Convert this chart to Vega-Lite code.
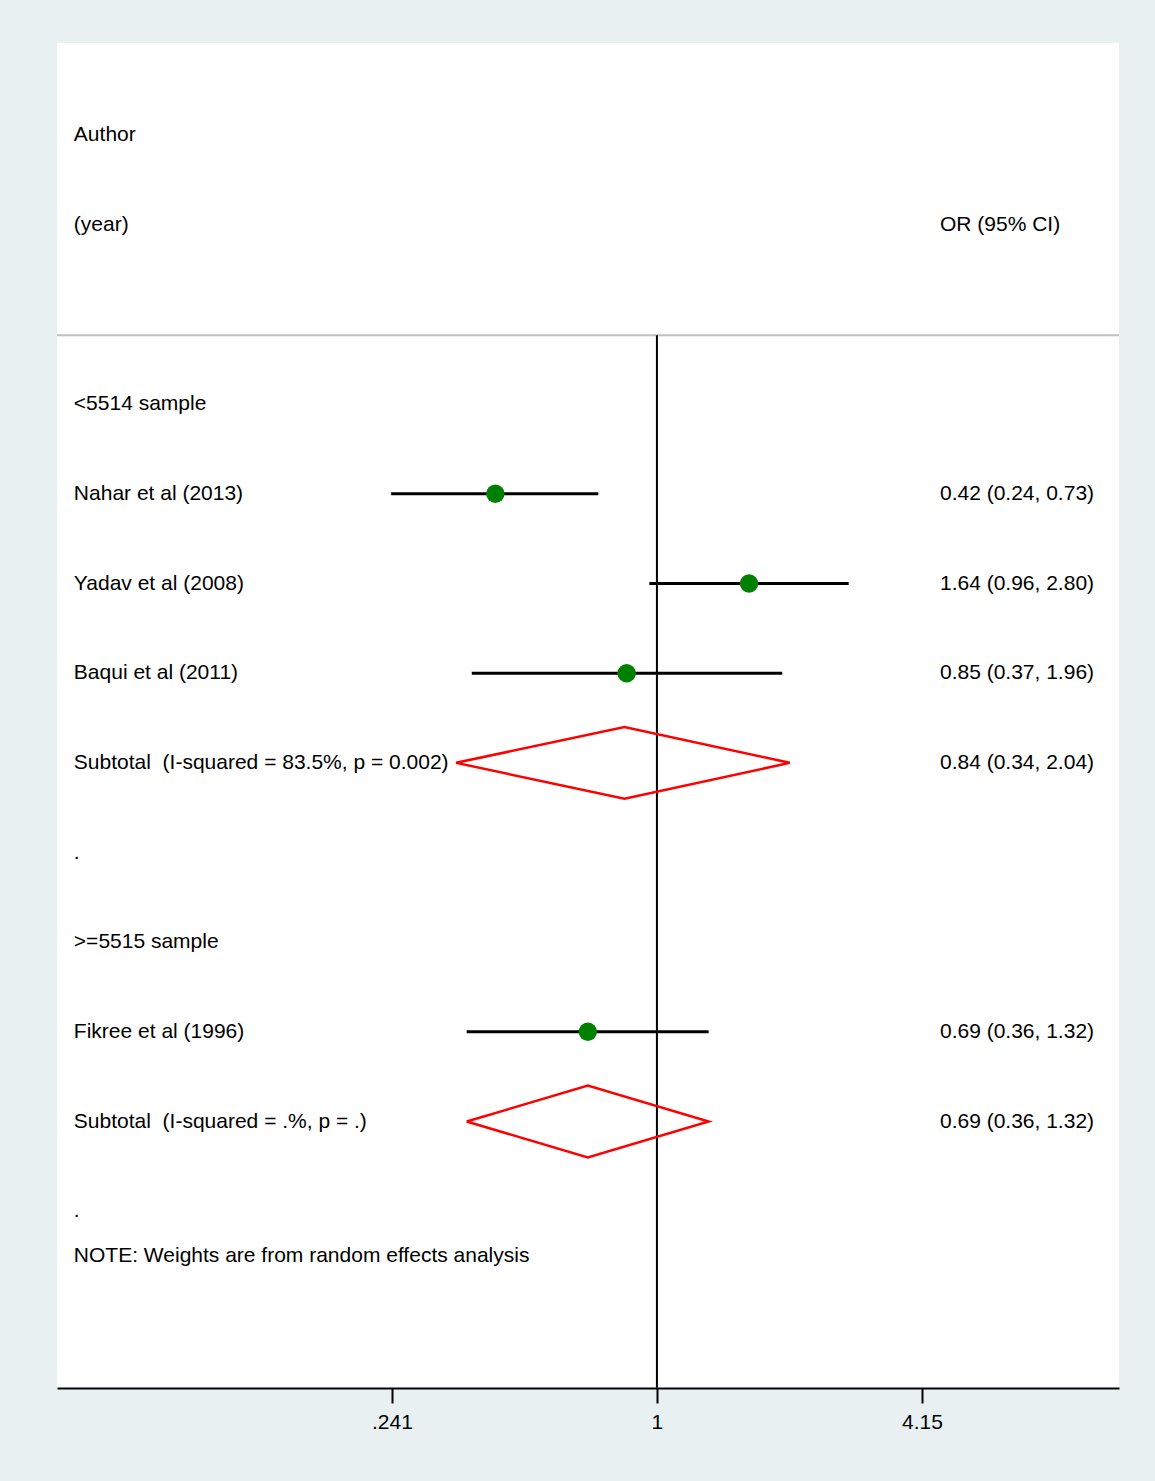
{
  "$schema": "https://vega.github.io/schema/vega-lite/v6.json",
  "width": 1062,
  "height": 1345,
  "autosize": {"type": "none"},
  "padding": {"left": 57, "top": 43, "right": 36, "bottom": 93},
  "background": "#e8f0f2",
  "config": {
    "view": {"fill": "white", "stroke": null},
    "font": "Liberation Sans",
    "text": {"font": "Liberation Sans", "fontSize": 21, "color": "black", "baseline": "middle", "align": "left"}
  },
  "datasets": {
    "labels": [
      {"col": "left", "tx": 0.04368, "row": 1, "label": "Author"},
      {"col": "left", "tx": 0.04368, "row": 2, "label": "(year)"},
      {"col": "right", "tx": 4.571, "row": 2, "label": "OR (95% CI)"},
      {"col": "left", "tx": 0.04368, "row": 4, "label": "<5514 sample"},
      {"col": "left", "tx": 0.04368, "row": 5, "label": "Nahar et al (2013)"},
      {"col": "right", "tx": 4.571, "row": 5, "label": "0.42 (0.24, 0.73)"},
      {"col": "left", "tx": 0.04368, "row": 6, "label": "Yadav et al (2008)"},
      {"col": "right", "tx": 4.571, "row": 6, "label": "1.64 (0.96, 2.80)"},
      {"col": "left", "tx": 0.04368, "row": 7, "label": "Baqui et al (2011)"},
      {"col": "right", "tx": 4.571, "row": 7, "label": "0.85 (0.37, 1.96)"},
      {"col": "left", "tx": 0.04368, "row": 8, "label": "Subtotal\u00a0 (I-squared = 83.5%, p = 0.002)"},
      {"col": "right", "tx": 4.571, "row": 8, "label": "0.84 (0.34, 2.04)"},
      {"col": "left", "tx": 0.04368, "row": 9, "label": "."},
      {"col": "left", "tx": 0.04368, "row": 10, "label": ">=5515 sample"},
      {"col": "left", "tx": 0.04368, "row": 11, "label": "Fikree et al (1996)"},
      {"col": "right", "tx": 4.571, "row": 11, "label": "0.69 (0.36, 1.32)"},
      {"col": "left", "tx": 0.04368, "row": 12, "label": "Subtotal\u00a0 (I-squared = .%, p = .)"},
      {"col": "right", "tx": 4.571, "row": 12, "label": "0.69 (0.36, 1.32)"},
      {"col": "left", "tx": 0.04368, "row": 13, "label": "."},
      {"col": "left", "tx": 0.04368, "row": 13.5, "label": "NOTE: Weights are from random effects analysis"}
    ],
    "studies": [
      {"study": "Nahar et al (2013)", "row": 5, "or": 0.42, "lo": 0.24, "hi": 0.73},
      {"study": "Yadav et al (2008)", "row": 6, "or": 1.64, "lo": 0.96, "hi": 2.80},
      {"study": "Baqui et al (2011)", "row": 7, "or": 0.85, "lo": 0.37, "hi": 1.96},
      {"study": "Fikree et al (1996)", "row": 11, "or": 0.69, "lo": 0.36, "hi": 1.32}
    ],
    "diamonds": [
      {"d": "sub1", "ord": 1, "px": 0.34, "py": 8},
      {"d": "sub1", "ord": 2, "px": 0.84, "py": 7.6},
      {"d": "sub1", "ord": 3, "px": 2.04, "py": 8},
      {"d": "sub1", "ord": 4, "px": 0.84, "py": 8.4},
      {"d": "sub1", "ord": 5, "px": 0.34, "py": 8},
      {"d": "sub2", "ord": 1, "px": 0.36, "py": 12},
      {"d": "sub2", "ord": 2, "px": 0.69, "py": 11.6},
      {"d": "sub2", "ord": 3, "px": 1.32, "py": 12},
      {"d": "sub2", "ord": 4, "px": 0.69, "py": 12.4},
      {"d": "sub2", "ord": 5, "px": 0.36, "py": 12}
    ],
    "refs": [
      {"ref": 1, "ytop": 3.23, "ybot": 14.97}
    ],
    "seps": [
      {"sy": 3.23}
    ]
  },
  "layer": [
    {
      "data": {"name": "seps"},
      "mark": {"type": "rule", "color": "#c0c0c0", "strokeWidth": 2},
      "encoding": {
        "y": {"field": "sy", "type": "quantitative", "scale": {"domain": [-0.028, 14.972], "reverse": true, "nice": false, "zero": false}, "axis": null}
      }
    },
    {
      "data": {"name": "refs"},
      "mark": {"type": "rule", "color": "black", "strokeWidth": 2},
      "encoding": {
        "x": {"field": "ref", "type": "quantitative"},
        "y": {"field": "ytop", "type": "quantitative"},
        "y2": {"field": "ybot"}
      }
    },
    {
      "data": {"name": "studies"},
      "mark": {"type": "rule", "color": "black", "strokeWidth": 3},
      "encoding": {
        "x": {"field": "lo", "type": "quantitative"},
        "x2": {"field": "hi"},
        "y": {"field": "row", "type": "quantitative"}
      }
    },
    {
      "data": {"name": "studies"},
      "mark": {"type": "point", "shape": "circle", "filled": true, "color": "#008000", "opacity": 1, "size": 340},
      "encoding": {
        "x": {"field": "or", "type": "quantitative"},
        "y": {"field": "row", "type": "quantitative"}
      }
    },
    {
      "data": {"name": "diamonds"},
      "mark": {"type": "line", "color": "#ff0000", "strokeWidth": 2.5, "strokeJoin": "miter"},
      "encoding": {
        "x": {"field": "px", "type": "quantitative"},
        "y": {"field": "py", "type": "quantitative"},
        "detail": {"field": "d"},
        "order": {"field": "ord", "type": "quantitative"}
      }
    },
    {
      "data": {"name": "labels"},
      "mark": {"type": "text"},
      "encoding": {
        "x": {
          "field": "tx",
          "type": "quantitative",
          "scale": {"type": "log", "domain": [0.0399, 11.955], "nice": false, "zero": false},
          "axis": {
            "values": [0.241, 1, 4.15],
            "labelExpr": "datum.value < 0.5 ? '.241' : datum.value < 2 ? '1' : '4.15'",
            "title": null,
            "grid": false,
            "domainColor": "black",
            "domainWidth": 2,
            "tickColor": "black",
            "tickWidth": 2,
            "tickSize": 15,
            "labelFontSize": 21,
            "labelFont": "Liberation Sans",
            "labelColor": "black",
            "labelPadding": 8,
            "labelFlush": false
          }
        },
        "y": {"field": "row", "type": "quantitative"},
        "text": {"field": "label"}
      }
    }
  ]
}
